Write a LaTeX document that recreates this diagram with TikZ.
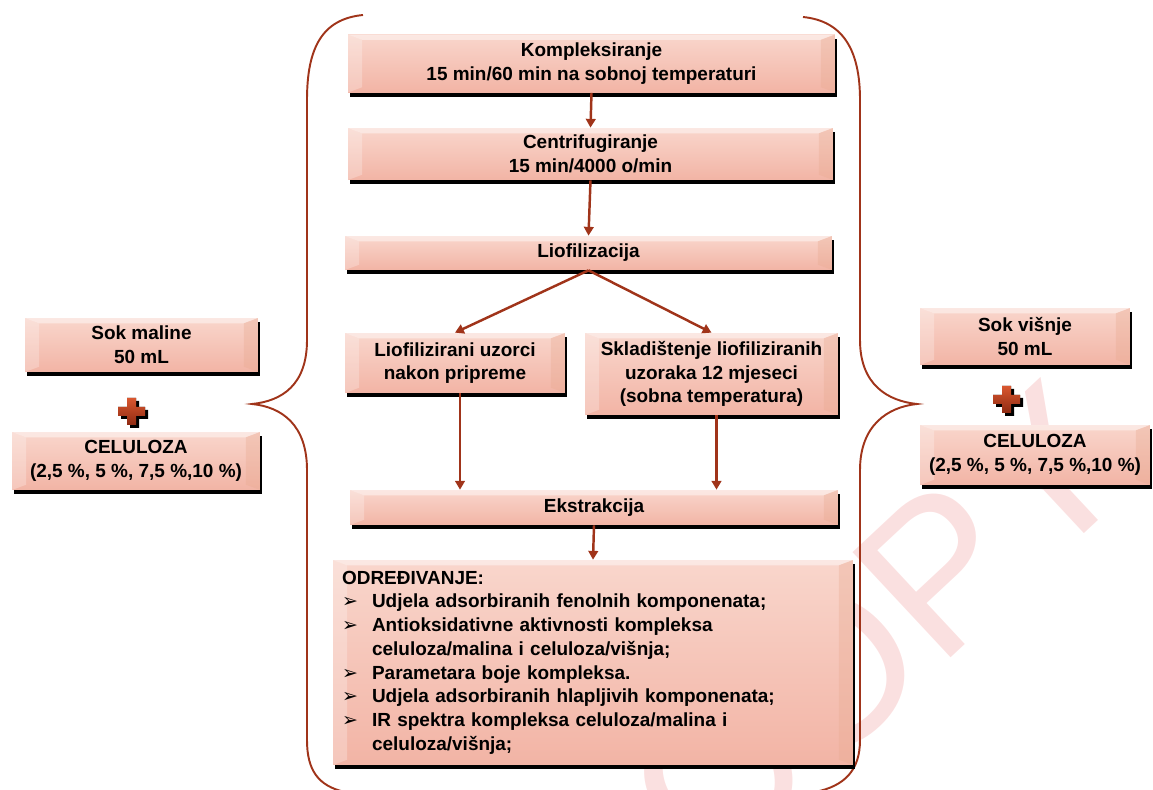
\documentclass[tikz,border=0pt]{standalone}
\usepackage{fontspec}
\setmainfont{Liberation Sans}
\newfontfamily\symfont{DejaVu Sans}
\usetikzlibrary{arrows.meta,shadows,positioning}
\definecolor{boxtop}{HTML}{F9D6CC}
\definecolor{boxbot}{HTML}{F2B4A5}
\definecolor{flowred}{HTML}{A0341A}
\definecolor{plustop}{HTML}{D9572F}
\definecolor{plusbot}{HTML}{8E2A12}
\newcommand{\itm}{\makebox[0.6cm][l]{\symfont\bfseries\char"27A2}}
\newcommand{\ind}{\hspace*{0.6cm}}
\tikzset{
  flowbox/.style={rectangle, inner sep=2pt, align=center,
    font=\bfseries\fontsize{10.8}{13.5}\selectfont,
    top color=boxtop, bottom color=boxbot,
    general shadow={fill=black, shadow xshift=1.3pt, shadow yshift=-2.3pt},
    path picture={
      \fill[white,opacity=.45] (path picture bounding box.north west) -- (path picture bounding box.north east)
        -- ([shift={(-8pt,-3pt)}]path picture bounding box.north east) -- ([shift={(8pt,-3pt)}]path picture bounding box.north west) -- cycle;
      \fill[white,opacity=.25] (path picture bounding box.north west) -- ([shift={(8pt,-3pt)}]path picture bounding box.north west)
        -- ([shift={(8pt,3pt)}]path picture bounding box.south west) -- (path picture bounding box.south west) -- cycle;
      \fill[boxbot!80!brown,opacity=.35] (path picture bounding box.north east) -- ([shift={(-8pt,-3pt)}]path picture bounding box.north east)
        -- ([shift={(-8pt,3pt)}]path picture bounding box.south east) -- (path picture bounding box.south east) -- cycle;
    }},
  flowarrow/.style={draw=flowred, line width=1.4pt, -{Triangle[length=5pt,width=5.5pt]}},
  brace line/.style={draw=flowred, line width=1.1pt},
  plus/.pic={
    \fill[black] (-2,-11) -- ++(9,0) -- ++(0,9) -- ++(9,0) -- ++(0,9) -- ++(-9,0) -- ++(0,9)
      -- ++(-9,0) -- ++(0,-9) -- ++(-9,0) -- ++(0,-9) -- ++(9,0) -- cycle;
    \fill[top color=plustop, bottom color=plusbot] (-5,-14) -- ++(9,0) -- ++(0,9) -- ++(9,0) -- ++(0,9)
      -- ++(-9,0) -- ++(0,9) -- ++(-9,0) -- ++(0,-9) -- ++(-9,0) -- ++(0,-9) -- ++(9,0) -- cycle;
  },
  wmark/.style={text=red!85!black, opacity=.12, font=\fontsize{119}{119}\selectfont, inner sep=0pt},
}

\begin{document}
\begin{tikzpicture}[x=0.02cm,y=-0.02cm]
\useasboundingbox (0,0) rectangle (1153,790);
% watermark
\node[wmark, rotate=43] (wm) at (877,629) {COPY};
% braces
\draw[brace line] (363,15) .. controls (322,19) and (307,48) .. (307,100) -- (307,340)
  .. controls (307,385) and (282,401) .. (252,404) .. controls (282,407) and (307,425) .. (307,470)
  -- (307,740) .. controls (307,770) and (318,786) .. (345,792);
\draw[brace line] (803,17) .. controls (843,21) and (860,50) .. (860,100) -- (860,340)
  .. controls (860,385) and (888,401) .. (917,404) .. controls (888,407) and (860,425) .. (860,470)
  -- (860,740) .. controls (860,770) and (845,786) .. (815,792);
% middle column
\node[flowbox, minimum width=9.74cm, minimum height=1.16cm] (komp) at (591.5,63.5)
  {Kompleksiranje\\15 min/60 min na sobnoj temperaturi};
\node[flowbox, minimum width=9.70cm, minimum height=1.04cm] (centr) at (590.5,154)
  {Centrifugiranje\\15 min/4000 o/min};
\node[flowbox, minimum width=9.74cm, minimum height=0.68cm] (liof) at (588.5,253) {Liofilizacija};
\node[flowbox, minimum width=4.4cm, minimum height=1.2cm] (uzorci) at (455,363)
  {Liofilizirani uzorci\\nakon pripreme};
\node[flowbox, minimum width=5.06cm, minimum height=1.64cm] (sklad) at (711.5,374)
  {Skladištenje liofiliziranih\\uzoraka 12 mjeseci\\(sobna temperatura)};
\node[flowbox, minimum width=9.76cm, minimum height=0.70cm] (ekstr) at (594,507.5) {Ekstrakcija};
\node[flowbox, minimum width=10.4cm, minimum height=4.1cm, inner xsep=0.18cm, text width=10.04cm, align=left] (odr) at (593,662.5)
  {ODREĐIVANJE:\\
   \itm Udjela adsorbiranih fenolnih komponenata;\\
   \itm Antioksidativne aktivnosti kompleksa\\
   \ind celuloza/malina i celuloza/višnja;\\
   \itm Parametara boje kompleksa.\\
   \itm Udjela adsorbiranih hlapljivih komponenata;\\
   \itm IR spektra kompleksa celuloza/malina i\\
   \ind celuloza/višnja;};
% side boxes
\node[flowbox, minimum width=4.66cm, minimum height=1.08cm] (malina) at (141.5,345) {Sok maline\\50 mL};
\node[flowbox, minimum width=4.96cm, minimum height=1.16cm] (celL) at (136,461)
  {CELULOZA\\(2,5 \%, 5 \%, 7,5 \%,10 \%)};
\node[flowbox, minimum width=4.2cm, minimum height=1.14cm] (visnja) at (1025,336.5) {Sok višnje\\50 mL};
\node[flowbox, minimum width=4.6cm, minimum height=1.2cm] (celR) at (1035,455)
  {CELULOZA\\(2,5 \%, 5 \%, 7,5 \%,10 \%)};
\pic at (132,412) {plus};
\pic at (1007,400) {plus};
% arrows
\draw[flowarrow] (komp.south) -- (centr.north);
\draw[flowarrow] (centr.south) -- (liof.north);
\draw[flowarrow] (liof.south) -- (uzorci.north);
\draw[flowarrow] (liof.south) -- (sklad.north);
\draw[flowarrow] ([xshift=0.1cm]uzorci.south) -- ([xshift=0.1cm]uzorci.south |- ekstr.north);
\draw[flowarrow] ([xshift=0.1cm]sklad.south) -- ([xshift=0.1cm]sklad.south |- ekstr.north);
\draw[flowarrow] (ekstr.south) -- (odr.north);
\end{tikzpicture}
\end{document}
